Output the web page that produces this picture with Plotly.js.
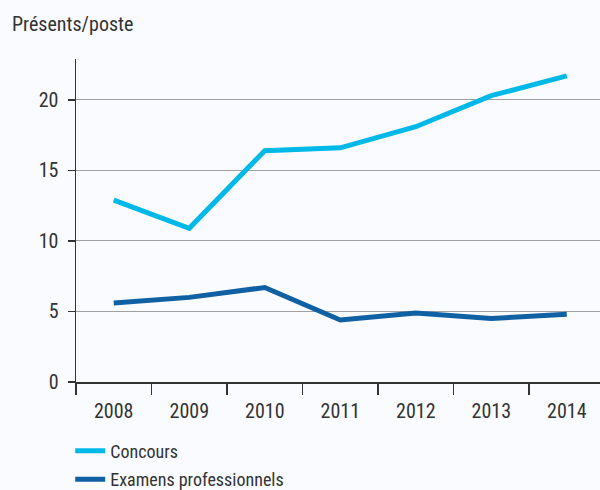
<!DOCTYPE html>
<html>
<head>
<meta charset="utf-8">
<script src="https://cdn.plot.ly/plotly-3.0.1.min.js"></script>
<style>html,body{margin:0;padding:0;background:#fafbfe;}</style>
</head>
<body>
<div id="chart" style="width:600px;height:490px;"></div>
<script>
const years = ["2008","2009","2010","2011","2012","2013","2014"];
const concours = [12.9, 10.9, 16.4, 16.6, 18.1, 20.3, 21.7];
const examens = [5.6, 6.0, 6.7, 4.4, 4.9, 4.5, 4.8];
const yTicks = [0, 5, 10, 15, 20];

const FONT = "'Roboto Condensed', 'Liberation Sans Narrow', 'Roboto', sans-serif";

const traces = [
  {x: years, y: concours, name: "Concours", type: "scatter", mode: "lines",
   legendgroup: "a", line: {color: "#00b9e8", width: 5}},
  {x: years, y: examens, name: "Examens professionnels", type: "scatter", mode: "lines",
   legendgroup: "b", line: {color: "#1060a4", width: 5}}
];

const layout = {
  width: 600, height: 490,
  paper_bgcolor: "#fafbfe", plot_bgcolor: "#fafbfe",
  margin: {l: 76, r: 0, t: 59, b: 108, autoexpand: false},
  font: {family: FONT, color: "#333333", size: 18},
  title: {text: "Présents/poste", xref: "container", yref: "container",
          x: 0.02, xanchor: "left", y: 0.966, yanchor: "top",
          font: {family: FONT, size: 20, color: "#333333"}},
  showlegend: true,
  legend: {orientation: "v", xref: "container", yref: "container",
           x: 0.117, xanchor: "left", y: 0.117, yanchor: "top",
           traceorder: "grouped", tracegroupgap: 2,
           bgcolor: "rgba(0,0,0,0)", font: {family: FONT, size: 18, color: "#333333"},
           itemwidth: 30},
  xaxis: {type: "category", range: [-0.5, 6.44], tickson: "boundaries",
          ticks: "outside", ticklen: 11, tickwidth: 1.5, tickcolor: "#333",
          showline: true, linecolor: "#333", linewidth: 1.5,
          showgrid: false, zeroline: false, fixedrange: true,
          ticklabelstandoff: 10,
          tickfont: {family: FONT, size: 20, color: "#333"}},
  yaxis: {range: [0, 22.9], tickvals: yTicks, ticks: "outside", ticklen: 7,
          tickwidth: 1.5, tickcolor: "#333", showline: true, linecolor: "#333",
          linewidth: 1.5, showgrid: true, gridcolor: "#a0a0a0", gridwidth: 1,
          zeroline: false, ticklabelstandoff: 5,
          tickfont: {family: FONT, size: 20, color: "#333"}}
};

Plotly.newPlot("chart", traces, layout, {displayModeBar: false, staticPlot: true});
</script>
</body>
</html>
